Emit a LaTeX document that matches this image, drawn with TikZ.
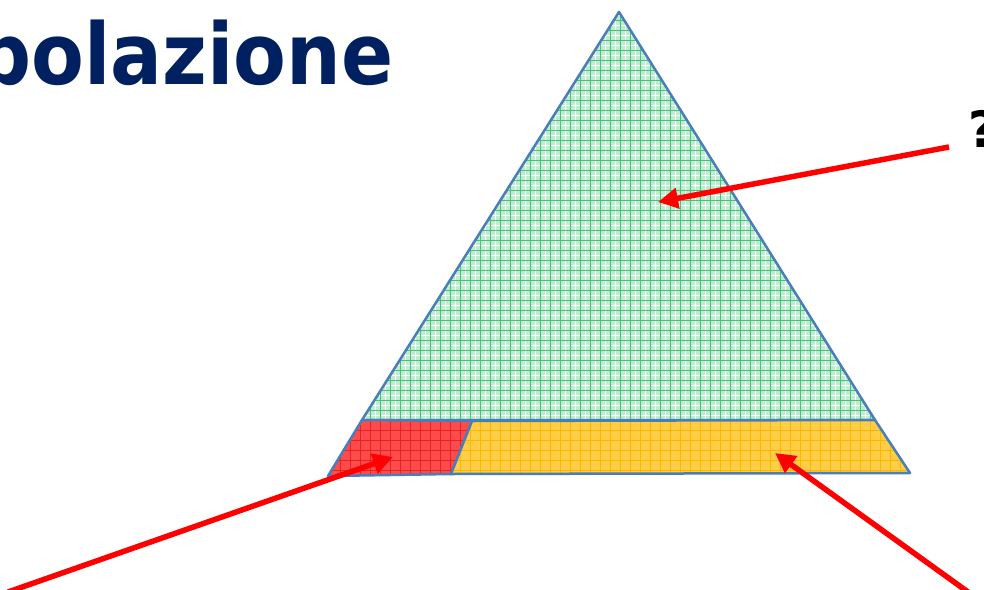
\documentclass[tikz,border=0pt]{standalone}
\usepackage{fontspec}
\usepackage{graphicx}
\setmainfont{DejaVu Sans}
\usetikzlibrary{arrows.meta}
\definecolor{navy}{RGB}{0,32,96}
\definecolor{edgeblue}{RGB}{74,126,187}
\definecolor{greenbase}{RGB}{190,236,208}
\definecolor{greenline}{RGB}{70,195,120}
\definecolor{redbase}{RGB}{255,75,75}
\definecolor{redline}{RGB}{228,35,35}
\definecolor{yelbase}{RGB}{255,206,70}
\definecolor{yelline}{RGB}{248,185,0}
\tikzset{
  outline/.style={draw=edgeblue, line width=2.5pt, line join=round},
  pointer/.style={draw=red, line width=5.5pt, -{Triangle[length=20pt,width=20pt]}},
}
\begin{document}
\begin{tikzpicture}[x=1pt,y=-1pt]
\useasboundingbox (0,0) rectangle (984,589);
\clip (0,0) rectangle (984,589);
\fill[white] (0,0) rectangle (984,589);

% title
\node[anchor=base west, inner sep=0, text=navy, font=\bfseries\fontsize{85}{90}\selectfont] (title) at (-24,84) {\scalebox{0.905}[1]{polazione}};
\node[anchor=base west, inner sep=0, text=black, font=\bfseries\fontsize{50}{55}\selectfont] (qmark) at (968,147) {?};

% shape corners
\coordinate (apex) at (619,12);
\coordinate (gl) at (362,420);
\coordinate (gr) at (875,420);
\coordinate (rtr) at (472,421);
\coordinate (rbr) at (451,474);
\coordinate (rbl) at (328,476);
\coordinate (ybr) at (910,473);

% green triangle
\begin{scope}
\clip (apex) -- (gr) -- (gl) -- cycle;
\fill[greenbase] (300,0) rectangle (950,430);
\draw[white, line width=1pt, step=5pt] (300,0) grid (950,430);
\draw[greenline, line width=1pt, step=10pt] (300,0) grid (950,430);
\end{scope}
\draw[outline] (apex) -- (gr) -- (gl) -- cycle;

% red parallelogram
\begin{scope}
\clip (gl) -- (rtr) -- (rbr) -- (rbl) -- cycle;
\fill[redbase] (300,400) rectangle (500,490);
\draw[redline, line width=1pt, step=10pt] (300,400) grid (500,490);
\end{scope}
\draw[outline] (gl) -- (rtr) -- (rbr) -- (rbl) -- cycle;

% yellow band
\begin{scope}
\clip (rtr) -- (gr) -- (ybr) -- (rbr) -- cycle;
\fill[yelbase] (440,400) rectangle (930,490);
\draw[yelline, line width=1pt, step=10pt] (440,400) grid (930,490);
\end{scope}
\draw[outline] (rtr) -- (gr) -- (ybr) -- (rbr) -- cycle;

% arrows
\coordinate (qstart) at (949,147);
\coordinate (gtip) at (658,202);
\coordinate (lstart) at (8,592);
\coordinate (rtip) at (393,457);
\coordinate (ystart) at (968,592);
\coordinate (ytip) at (775,453);
\draw[pointer] (qstart) -- (gtip);
\draw[pointer] (lstart) -- (rtip);
\draw[pointer] (ystart) -- (ytip);
\end{tikzpicture}
\end{document}
